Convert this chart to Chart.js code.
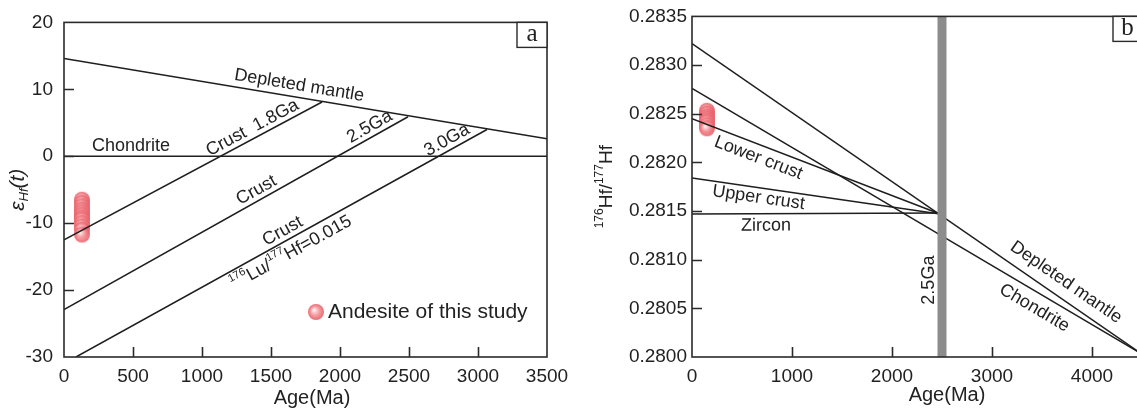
<!DOCTYPE html>
<html>
<head>
<meta charset="utf-8">
<script src="https://cdn.jsdelivr.net/npm/chart.js@4.4.0/dist/chart.umd.min.js"></script>
<style>
html, body { margin: 0; padding: 0; background: #fff; overflow: hidden; width: 1137px; height: 408px; }
#wa { position: absolute; left: 0; top: 0; }
#wb { position: absolute; left: 590px; top: 0; }
</style>
</head>
<body>
<div id="wa"><canvas id="chartA" width="590" height="408"></canvas></div>
<div id="wb"><canvas id="chartB" width="610" height="408"></canvas></div>
<script>
// ---- panel a : eHf(t) vs age ----
const aDepleted = [[0, 14.6], [3500, 2.6]];
const aChondrite = [[0, 0], [3500, 0]];
const aCrust18 = [[0, -12.5], [1870, 8.1]];
const aCrust25 = [[0, -22.9], [2493, 5.9]];
const aCrust30 = [[87, -30], [3065, 4.0]];
const aSampleAge = [130, 130, 130, 130, 130, 130, 130, 130, 130, 130, 130, 130];
const aSampleEps = [-6.5, -7.0, -7.5, -8.0, -8.4, -8.8, -9.2, -9.5, -10.0, -10.5, -11.0, -11.7];
const aXTicks = [0, 500, 1000, 1500, 2000, 2500, 3000, 3500];
const aYTicks = [-30, -20, -10, 0, 10, 20];

// ---- panel b : 176Hf/177Hf vs age ----
const bDepleted = [[0, 0.28322], [4500, 0.28003]];
const bChondrite = [[0, 0.28276], [4500, 0.28003]];
const bLower = [[0, 0.28245], [2480, 0.28147]];
const bUpper = [[0, 0.28184], [2480, 0.28147]];
const bZircon = [[0, 0.28147], [2480, 0.28148]];
const bBand = [[2500, 0.2800], [2500, 0.2835]];
const bSampleAge = [150, 150, 150, 150, 150, 150, 150, 150];
const bSampleRatio = [0.28253, 0.28250, 0.28247, 0.28245, 0.28243, 0.28241, 0.28238, 0.28235];
const bXTicks = [0, 1000, 2000, 3000, 4000];
const bYTicks = [0.2800, 0.2805, 0.2810, 0.2815, 0.2820, 0.2825, 0.2830, 0.2835];

const FONT = '"Liberation Sans", Arial, sans-serif';
const INK = '#222';

// 샘플 점 모양 (분홍색 구)
function makeDot(r) {
    const c = document.createElement('canvas');
    c.width = c.height = 2 * r + 2;
    const g = c.getContext('2d');
    const grad = g.createRadialGradient(r - 1, r - 1, 0.5, r + 1, r + 1, r);
    grad.addColorStop(0, 'rgba(255,238,238,0.95)');
    grad.addColorStop(0.55, 'rgba(243,142,148,0.9)');
    grad.addColorStop(1, 'rgba(232,92,102,0.9)');
    g.fillStyle = grad;
    g.beginPath();
    g.arc(r + 1, r + 1, r, 0, Math.PI * 2);
    g.fill();
    return c;
}
const dot = makeDot(8);

function seg(pts, extra) {
    return Object.assign({
        data: pts.map(p => ({x: p[0], y: p[1]})),
        showLine: true,
        borderColor: '#1e1e1e',
        borderWidth: 1.5,
        pointRadius: 0,
        pointHoverRadius: 0,
        order: 2
    }, extra || {});
}

function samples(ages, vals) {
    return {
        data: ages.map((a, i) => ({x: a, y: vals[i]})),
        showLine: false,
        pointStyle: dot,
        pointRadius: 8,
        order: 3
    };
}

function partFont(p, size) {
    const s = (p.sup || p.sub) ? Math.round(size * 0.62) : size;
    return (p.it ? 'italic ' : '') + s + 'px ' + FONT;
}

// 위첨자/아래첨자가 있는 텍스트 그리기
function drawParts(ctx, parts, size, cx, cy) {
    if (typeof parts === 'string') parts = [{t: parts}];
    let w = 0;
    parts.forEach(p => { ctx.font = partFont(p, size); p.w = ctx.measureText(p.t).width; w += p.w; });
    let x = cx - w / 2;
    ctx.textAlign = 'left';
    ctx.textBaseline = 'middle';
    parts.forEach(p => {
        ctx.font = partFont(p, size);
        const dy = p.sup ? -size * 0.36 : (p.sub ? size * 0.3 : 0);
        ctx.fillText(p.t, x, cy + dy);
        x += p.w;
    });
}

// 선 위의 라벨
function lineLabels(id, labels, extra) {
    return {
        id: id,
        afterDatasetsDraw(chart) {
            const {ctx, scales: {x, y}} = chart;
            ctx.save();
            ctx.fillStyle = INK;
            labels.forEach(l => {
                const d = chart.data.datasets[l.ds].data;
                const p1 = {x: x.getPixelForValue(d[0].x), y: y.getPixelForValue(d[0].y)};
                const p2 = {x: x.getPixelForValue(d[1].x), y: y.getPixelForValue(d[1].y)};
                const ang = Math.atan2(p2.y - p1.y, p2.x - p1.x);
                const t = (l.x - d[0].x) / (d[1].x - d[0].x);
                const vy = d[0].y + t * (d[1].y - d[0].y);
                const px = x.getPixelForValue(l.x) - Math.sin(ang) * l.off;
                const py = y.getPixelForValue(vy) + Math.cos(ang) * l.off;
                ctx.save();
                ctx.translate(px, py);
                ctx.rotate(ang);
                drawParts(ctx, l.parts, l.size || 18, 0, 0);
                ctx.restore();
            });
            if (extra) extra(chart, ctx);
            ctx.restore();
        }
    };
}

// 테두리와 안쪽 눈금
const frame = {
    id: 'frame',
    afterDatasetsDraw(chart) {
        const {ctx, chartArea: a, scales: {x, y}} = chart;
        ctx.save();
        ctx.strokeStyle = '#2a2a2a';
        ctx.lineWidth = 1.6;
        ctx.strokeRect(a.left, a.top, a.right - a.left, a.bottom - a.top);
        ctx.beginPath();
        x.ticks.forEach(t => {
            if (t.value <= x.min || t.value >= x.max) return;
            const px = Math.round(x.getPixelForValue(t.value)) + 0.5;
            ctx.moveTo(px, a.bottom); ctx.lineTo(px, a.bottom - 10);
        });
        y.ticks.forEach(t => {
            if (t.value <= y.min || t.value >= y.max) return;
            const py = Math.round(y.getPixelForValue(t.value)) + 0.5;
            ctx.moveTo(a.left, py); ctx.lineTo(a.left + 10, py);
        });
        ctx.stroke();
        ctx.restore();
    }
};

function panelBox(chart, ctx, letter, w) {
    const a = chart.chartArea;
    ctx.fillStyle = '#fff';
    ctx.fillRect(a.right - w, a.top, w, 25);
    ctx.strokeStyle = '#2a2a2a';
    ctx.lineWidth = 1.4;
    ctx.strokeRect(a.right - w, a.top, w, 25);
    ctx.fillStyle = INK;
    ctx.font = '25px "Liberation Serif", "DejaVu Serif", serif';
    ctx.textAlign = 'center';
    ctx.textBaseline = 'middle';
    ctx.fillText(letter, a.right - w / 2, a.top + 12);
}

function scales(xMin, xMax, xTicks, yMin, yMax, yTicks, yWidth, yPad, yFmt) {
    const tickFont = {family: FONT, size: 19};
    return {
        x: {
            type: 'linear', min: xMin, max: xMax,
            grid: {display: false, drawTicks: false},
            border: {display: false},
            afterBuildTicks: s => { s.ticks = xTicks.map(v => ({value: v})); },
            afterFit: s => { s.height = 51; },
            ticks: {font: tickFont, color: INK, padding: 8, autoSkip: false, maxRotation: 0,
                    callback: v => String(v)}
        },
        y: {
            type: 'linear', min: yMin, max: yMax,
            grid: {display: false, drawTicks: false},
            border: {display: false},
            afterBuildTicks: s => { s.ticks = yTicks.map(v => ({value: v})); },
            afterFit: s => { s.width = yWidth; },
            ticks: {font: tickFont, color: INK, padding: yPad, autoSkip: false, callback: yFmt}
        }
    };
}

const baseOptions = {
    responsive: false,
    animation: false,
    events: [],
    plugins: {legend: {display: false}, tooltip: {enabled: false}}
};

// ---------- chart a ----------
const labelsA = [
    {parts: 'Depleted mantle', ds: 0, x: 1690, off: -12},
    {parts: 'Chondrite', ds: 1, x: 485, off: -10},
    {parts: 'Crust  1.8Ga', ds: 2, x: 1400, off: -10},
    {parts: 'Crust', ds: 3, x: 1430, off: -10},
    {parts: '2.5Ga', ds: 3, x: 2250, off: -10},
    {parts: 'Crust', ds: 4, x: 1620, off: -10},
    {parts: '3.0Ga', ds: 4, x: 2810, off: -10},
    {parts: [{t: '176', sup: 1}, {t: 'Lu/'}, {t: '177', sup: 1}, {t: 'Hf=0.015'}], ds: 4, x: 1600, off: 13}
];

new Chart(document.getElementById('chartA'), {
    type: 'scatter',
    data: {
        datasets: [
            seg(aDepleted), seg(aChondrite), seg(aCrust18), seg(aCrust25), seg(aCrust30),
            samples(aSampleAge, aSampleEps)
        ]
    },
    options: Object.assign({}, baseOptions, {
        layout: {padding: {top: 13, right: 43, left: 0, bottom: 0}},
        scales: scales(0, 3500, aXTicks, -30, 20, aYTicks, 64, 11, v => String(v))
    }),
    plugins: [frame, lineLabels('labA', labelsA, (chart, ctx) => {
        const a = chart.chartArea;
        // legend
        ctx.drawImage(dot, 316 - 9, 312 - 9);
        ctx.fillStyle = INK;
        ctx.font = '21px ' + FONT;
        ctx.textAlign = 'left';
        ctx.textBaseline = 'middle';
        ctx.fillText('Andesite of this study', 328, 312);
        // axis titles
        drawParts(ctx, 'Age(Ma)', 20, 312, 398);
        ctx.save();
        ctx.translate(18, (a.top + a.bottom) / 2);
        ctx.rotate(-Math.PI / 2);
        drawParts(ctx, [{t: 'ε', it: 1}, {t: 'Hf', it: 1, sub: 1}, {t: '(t)', it: 1}], 21, 0, 0);
        ctx.restore();
        panelBox(chart, ctx, 'a', 30);
    })]
});

// ---------- chart b ----------
const labelsB = [
    {parts: 'Lower crust', ds: 2, x: 710, off: 13},
    {parts: 'Upper crust', ds: 3, x: 680, off: 10},
    {parts: 'Zircon', ds: 4, x: 740, off: 12},
    {parts: 'Depleted mantle', ds: 0, x: 3650, off: -16},
    {parts: 'Chondrite', ds: 1, x: 3500, off: 15}
];

new Chart(document.getElementById('chartB'), {
    type: 'scatter',
    data: {
        datasets: [
            seg(bDepleted), seg(bChondrite), seg(bLower), seg(bUpper), seg(bZircon),
            seg(bBand, {borderColor: '#8c8c8c', borderWidth: 9, order: 1}),
            samples(bSampleAge, bSampleRatio)
        ]
    },
    options: Object.assign({}, baseOptions, {
        layout: {padding: {top: 13, right: 58, left: 0, bottom: 0}},
        scales: scales(0, 4500, bXTicks, 0.2800, 0.2835, bYTicks, 102, 5, v => v.toFixed(4))
    }),
    plugins: [frame, lineLabels('labB', labelsB, (chart, ctx) => {
        const a = chart.chartArea;
        const {x, y} = chart.scales;
        ctx.fillStyle = INK;
        ctx.save();
        ctx.translate(x.getPixelForValue(bBand[0][0]) - 13, y.getPixelForValue(0.28079));
        ctx.rotate(-Math.PI / 2);
        drawParts(ctx, '2.5Ga', 18, 0, 0);
        ctx.restore();
        drawParts(ctx, 'Age(Ma)', 20, 947 - 590, 395);
        ctx.save();
        ctx.translate(17, (a.top + a.bottom) / 2);
        ctx.rotate(-Math.PI / 2);
        drawParts(ctx, [{t: '176', sup: 1}, {t: 'Hf/'}, {t: '177', sup: 1}, {t: 'Hf'}], 19, 0, 0);
        ctx.restore();
        panelBox(chart, ctx, 'b', 29);
    })]
});
</script>
</body>
</html>
